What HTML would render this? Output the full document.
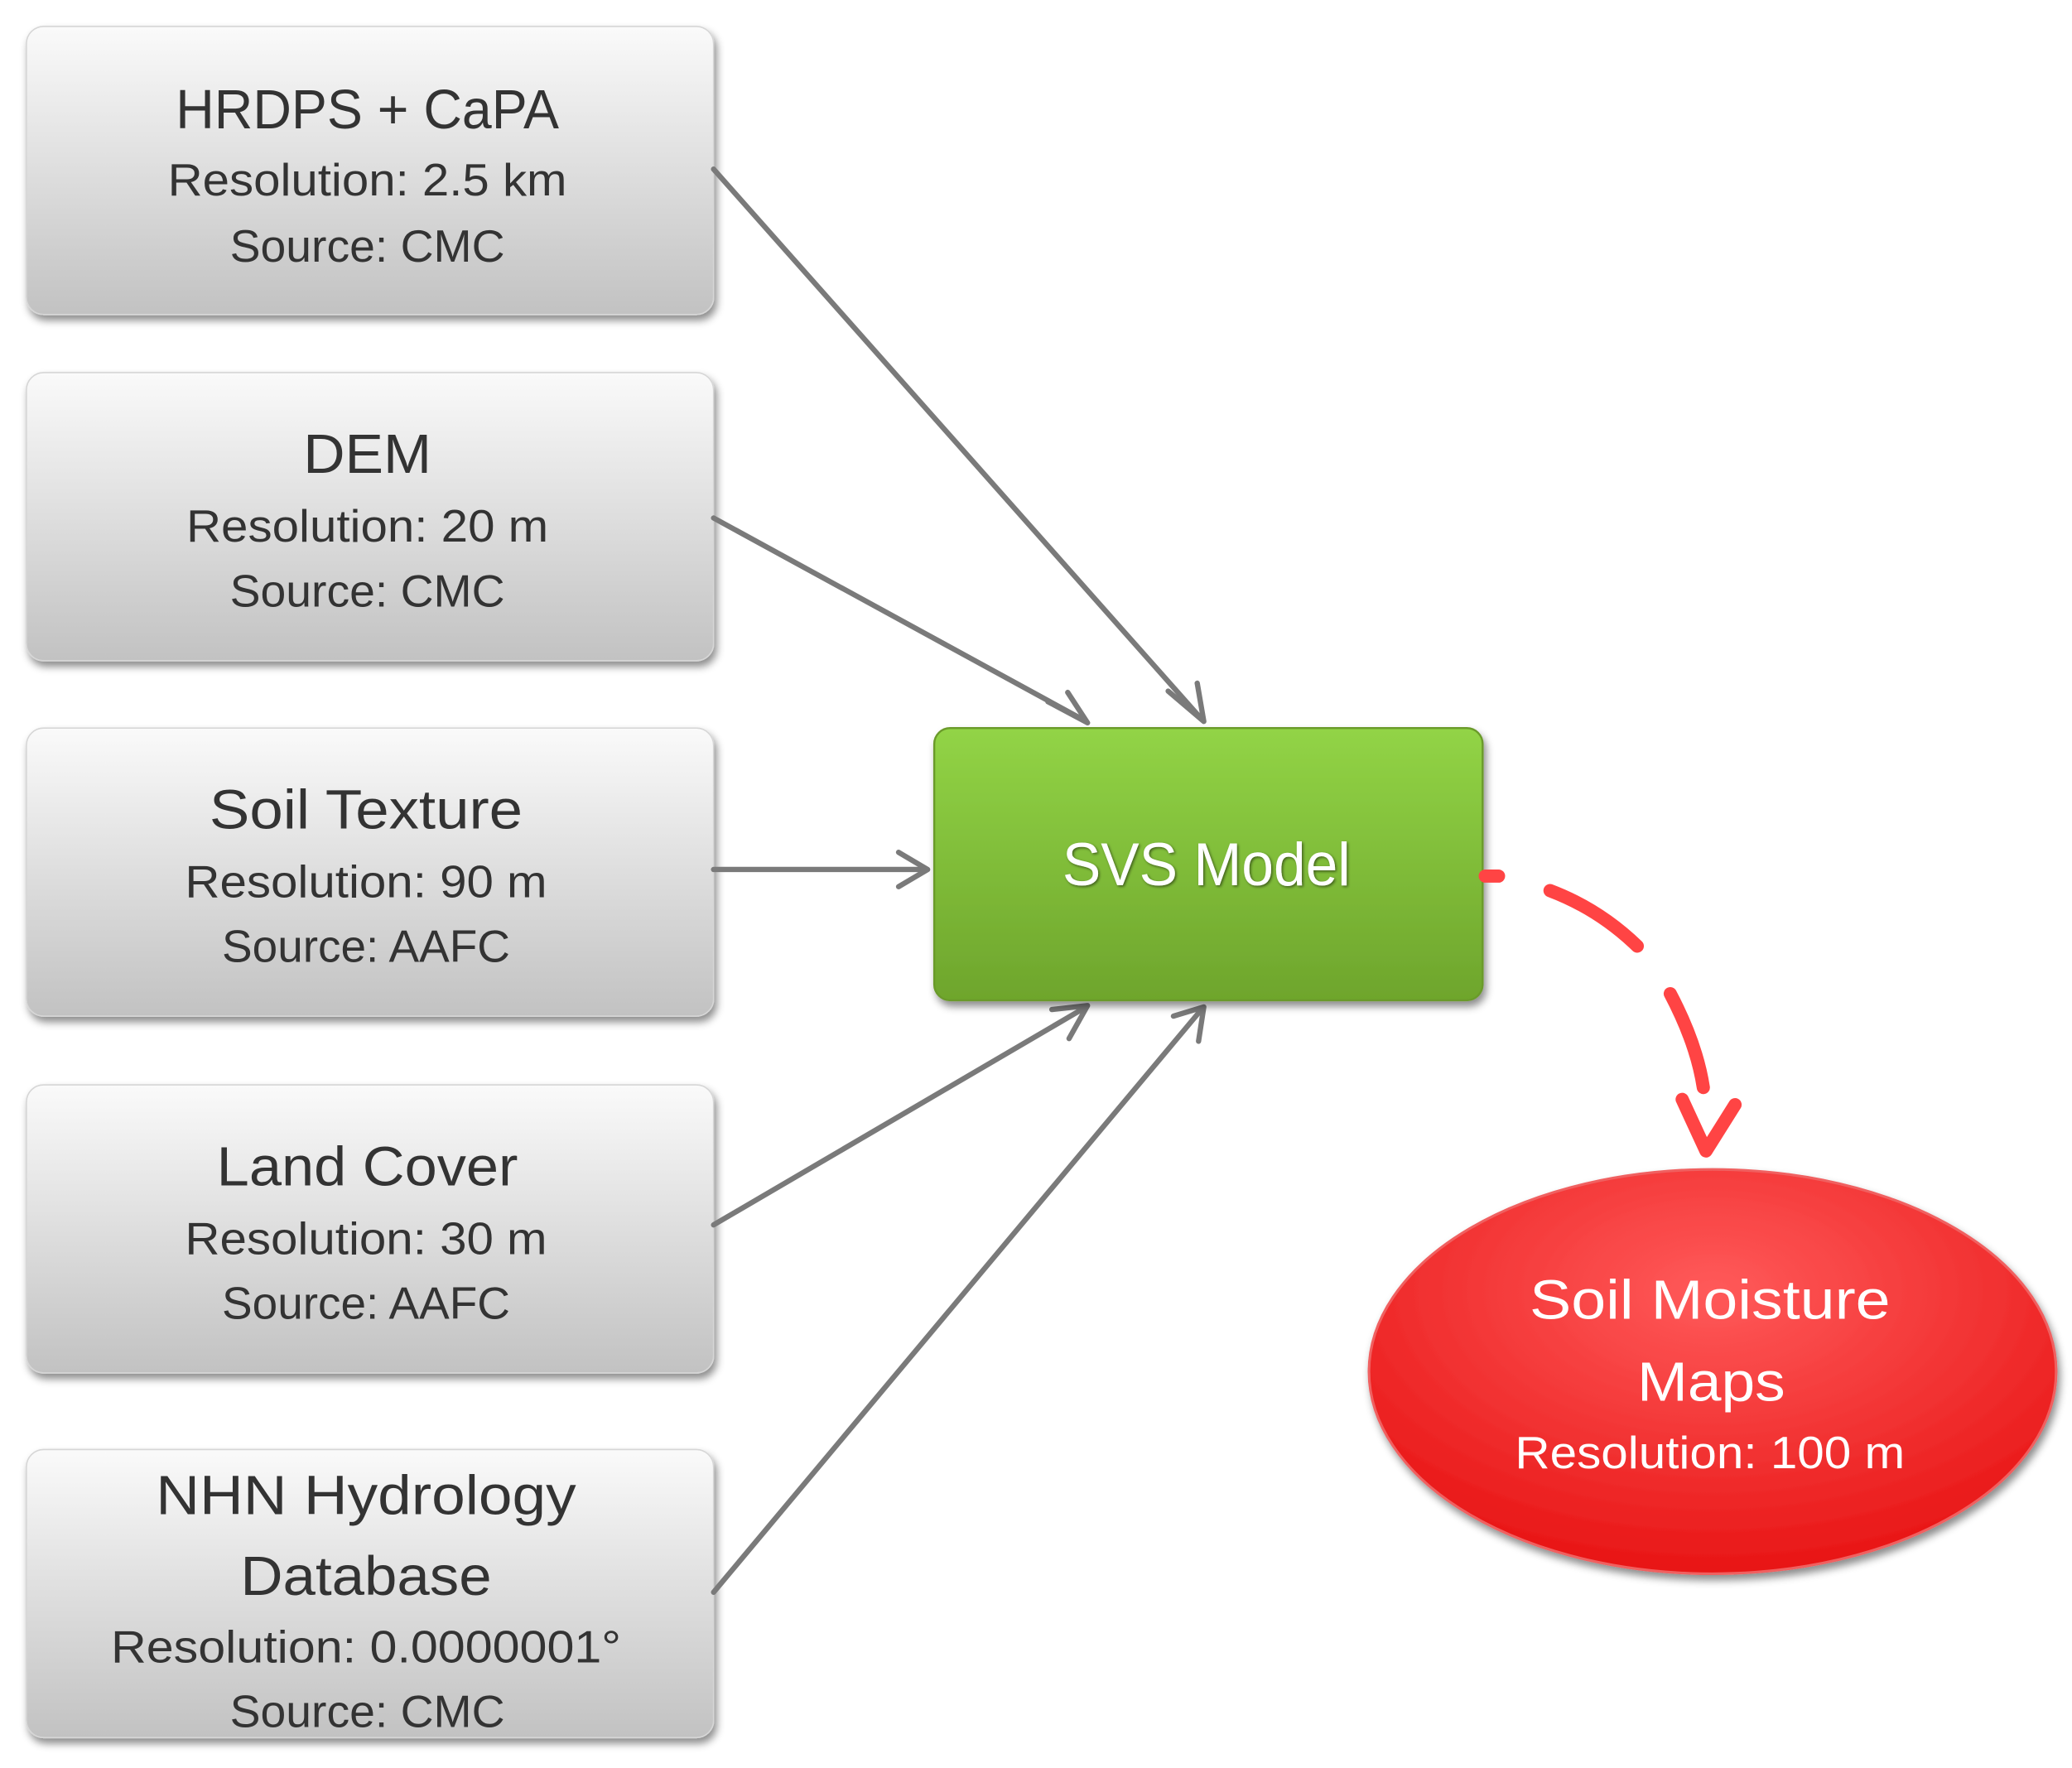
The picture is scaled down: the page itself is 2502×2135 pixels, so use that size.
<!DOCTYPE html>
<html><head><meta charset="utf-8"><style>html,body{margin:0;padding:0;background:#fff}svg{display:block}</style></head><body>
<svg width="2502" height="2135" viewBox="0 0 1568 1338" preserveAspectRatio="none" xmlns="http://www.w3.org/2000/svg" font-family="'Liberation Sans', sans-serif">
<defs>
<linearGradient id="g" x1="0" y1="0" x2="0" y2="1"><stop offset="0" stop-color="#fafafa"/><stop offset="1" stop-color="#c2c2c2"/></linearGradient>
<linearGradient id="gr" x1="0" y1="0" x2="0" y2="1"><stop offset="0" stop-color="#92d446"/><stop offset="1" stop-color="#6ea52c"/></linearGradient>
<radialGradient id="rd" cx="0.5" cy="0.3" r="0.7"><stop offset="0" stop-color="#ff5a5a"/><stop offset="1" stop-color="#e81515"/></radialGradient>
<filter id="sh" x="-10%" y="-10%" width="120%" height="130%"><feDropShadow dx="2" dy="4" stdDeviation="3" flood-color="#000" flood-opacity="0.45"/></filter>
<filter id="ts"><feDropShadow dx="1" dy="1" stdDeviation="1" flood-color="#000" flood-opacity="0.5"/></filter>
</defs>
<g fill="url(#g)" stroke="#d6d6d6" stroke-width="1" filter="url(#sh)">
<rect x="20" y="20" width="520" height="218" rx="13"/>
<rect x="20" y="282" width="520" height="218" rx="13"/>
<rect x="20" y="551" width="520" height="218" rx="13"/>
<rect x="20" y="821" width="520" height="218" rx="13"/>
<rect x="20" y="1097" width="520" height="218" rx="13"/>
</g>
<g fill="#333" text-anchor="middle">
<text x="278" y="97" font-size="42" textLength="290" lengthAdjust="spacingAndGlyphs">HRDPS + CaPA</text>
<text x="278" y="148" font-size="34" textLength="302" lengthAdjust="spacingAndGlyphs">Resolution: 2.5 km</text>
<text x="278" y="198" font-size="34" textLength="208" lengthAdjust="spacingAndGlyphs">Source: CMC</text>
<text x="278" y="358" font-size="42" textLength="97" lengthAdjust="spacingAndGlyphs">DEM</text>
<text x="278" y="410" font-size="34" textLength="274" lengthAdjust="spacingAndGlyphs">Resolution: 20 m</text>
<text x="278" y="459" font-size="34" textLength="208" lengthAdjust="spacingAndGlyphs">Source: CMC</text>
<text x="277" y="627" font-size="42" textLength="237" lengthAdjust="spacingAndGlyphs">Soil Texture</text>
<text x="277" y="679" font-size="34" textLength="274" lengthAdjust="spacingAndGlyphs">Resolution: 90 m</text>
<text x="277" y="728" font-size="34" textLength="218" lengthAdjust="spacingAndGlyphs">Source: AAFC</text>
<text x="278" y="897" font-size="42" textLength="228" lengthAdjust="spacingAndGlyphs">Land Cover</text>
<text x="277" y="949" font-size="34" textLength="274" lengthAdjust="spacingAndGlyphs">Resolution: 30 m</text>
<text x="277" y="998" font-size="34" textLength="218" lengthAdjust="spacingAndGlyphs">Source: AAFC</text>
<text x="277" y="1146" font-size="42" textLength="318" lengthAdjust="spacingAndGlyphs">NHN Hydrology</text>
<text x="277" y="1207" font-size="42" textLength="190" lengthAdjust="spacingAndGlyphs">Database</text>
<text x="277" y="1258" font-size="34" textLength="386" lengthAdjust="spacingAndGlyphs">Resolution: 0.0000001°</text>
<text x="278" y="1307" font-size="34" textLength="208" lengthAdjust="spacingAndGlyphs">Source: CMC</text>
</g>
<g stroke="#7a7a7a" stroke-width="4" fill="none" stroke-linecap="round" stroke-linejoin="round">
<line x1="540" y1="128" x2="910" y2="545"/>
<polyline points="884,523 911,546 906,517"/>
<line x1="540" y1="392" x2="822" y2="546"/>
<polyline points="793,531 823,547 808,524"/>
<line x1="540" y1="658" x2="701" y2="658"/>
<polyline points="680,645 702,658 680,671"/>
<line x1="540" y1="927" x2="822" y2="762"/>
<polyline points="796,764 823,761 809,786"/>
<line x1="540" y1="1205" x2="910" y2="763"/>
<polyline points="888,769 911,762 907,788"/>
</g>
<rect x="707" y="551" width="415" height="206" rx="12" fill="url(#gr)" stroke="#6a9a2a" stroke-width="1.5" filter="url(#sh)"/>
<text x="913" y="670" font-size="46" fill="#fff" text-anchor="middle" textLength="218" lengthAdjust="spacingAndGlyphs" filter="url(#ts)">SVS Model</text>
<g stroke="#ff4444" stroke-width="10" fill="none" stroke-linecap="round" stroke-linejoin="round">
<line x1="1124" y1="663" x2="1134" y2="663"/>
<path d="M1173,674 Q1210,688 1239,716"/>
<path d="M1264,752 Q1284,790 1289,823"/>
<polyline points="1273,832 1291,871 1313,836"/>
</g>
<ellipse cx="1296" cy="1038" rx="260" ry="153" fill="url(#rd)" stroke="#f06060" stroke-width="2" filter="url(#sh)"/>
<g fill="#fff" text-anchor="middle">
<text x="1294" y="998" font-size="42" textLength="273" lengthAdjust="spacingAndGlyphs">Soil Moisture</text>
<text x="1295" y="1060" font-size="42" textLength="112" lengthAdjust="spacingAndGlyphs">Maps</text>
<text x="1294" y="1111" font-size="34" textLength="295" lengthAdjust="spacingAndGlyphs">Resolution: 100 m</text>
</g>
</svg>
</body></html>
